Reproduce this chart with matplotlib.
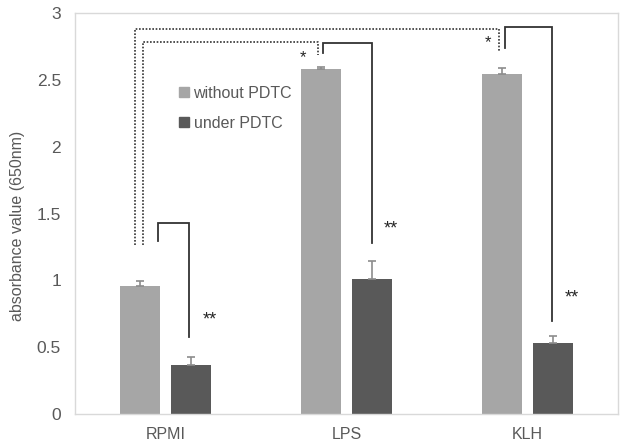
import matplotlib.pyplot as plt
import numpy as np
from matplotlib.patches import Patch

plt.rcParams['font.family'] = ['Liberation Sans', 'DejaVu Sans']

# values
categories = ['RPMI', 'LPS', 'KLH']
without_pdtc = [0.96, 2.58, 2.545]
without_err = [0.035, 0.015, 0.04]
under_pdtc = [0.37, 1.01, 0.53]
under_err = [0.055, 0.135, 0.05]

# solid brackets (per group): left leg offset, left leg bottom, top, right leg offset, right leg bottom
br_left_x = [-0.04, -0.129, -0.124]
br_left_bottom = [1.296, 2.70, 2.736]
br_top = [1.427, 2.773, 2.897]
br_right_x = [0.13, 0.14, 0.135]
br_right_bottom = [0.578, 1.277, 0.698]
double_star_y = [0.733, 1.414, 0.898]

# dotted brackets RPMI -> LPS (inner) and RPMI -> KLH (outer)
dot_targets = [1, 2]
dot_left_x = [-0.127, -0.166]
dot_bottom = [1.264, 1.264]
dot_top = [2.78, 2.878]
dot_right_x = [-0.157, -0.157]
dot_right_bottom = [2.686, 2.71]
single_star_x = [-0.24, -0.218]
single_star_y = [2.698, 2.81]

LIGHT = '#a6a6a6'
DARK = '#595959'
TXT = '#595959'

fig = plt.figure(figsize=(6.31, 4.44), dpi=100)
ax = fig.add_axes([75/631, 30/444, 543/631, 401/444])

x = np.arange(len(categories))
w = 0.221
off = 0.141
ax.bar(x - off, without_pdtc, w, color=LIGHT, zorder=2)
ax.bar(x + off, under_pdtc, w, color=DARK, zorder=2)
for xs, vals, errs in [(x - off, without_pdtc, without_err), (x + off, under_pdtc, under_err)]:
    ax.errorbar(xs, vals, yerr=[np.zeros(len(errs)), errs], fmt='none',
                ecolor='#8c8c8c', elinewidth=1.2, capsize=3.2, capthick=1.2, zorder=3)

for i in range(len(categories)):
    xl = i + br_left_x[i]
    xr = i + br_right_x[i]
    ax.plot([xl, xl, xr, xr], [br_left_bottom[i], br_top[i], br_top[i], br_right_bottom[i]],
            color='#333333', lw=1.3, solid_joinstyle='miter', zorder=4)
    ax.text(i + 0.245, double_star_y[i] - 0.03, '**', ha='center', va='center',
            fontsize=13, color='#262626')

for j, t in enumerate(dot_targets):
    xl = 0 + dot_left_x[j]
    xr = t + dot_right_x[j]
    ax.plot([xl, xl, xr, xr], [dot_bottom[j], dot_top[j], dot_top[j], dot_right_bottom[j]],
            color='#333333', lw=1.2, linestyle=(0, (1, 1)), zorder=4)
    ax.text(t + single_star_x[j], single_star_y[j] - 0.03, '*', ha='center', va='center',
            fontsize=12, color='#262626')

ax.set_xlim(-0.5, 2.5)
ax.set_ylim(0, 3)
ax.set_xticks(x)
ax.set_xticklabels(categories)
ax.set_yticks([0, 0.5, 1, 1.5, 2, 2.5, 3])
ax.set_yticklabels(['0', '0.5', '1', '1.5', '2', '2.5', '3'])
ax.tick_params(axis='x', length=0, pad=9, labelsize=11.5, labelcolor=TXT)
ax.tick_params(axis='y', length=0, pad=10, labelsize=12.5, labelcolor=TXT)
for s in ax.spines.values():
    s.set_color('#d9d9d9')
    s.set_linewidth(1.0)
ax.set_ylabel('absorbance value (650nm)', fontsize=11.5, color=TXT)
ax.yaxis.set_label_coords(-0.092, 0.47)

handles = [Patch(color=LIGHT), Patch(color=DARK)]
ax.legend(handles, ['without PDTC', 'under PDTC'], loc='upper left',
          bbox_to_anchor=(0.18, 0.835), frameon=False, fontsize=11.5,
          handlelength=0.6, handleheight=0.6, handletextpad=0.3,
          labelspacing=0.95, borderaxespad=0, labelcolor=TXT)

fig.savefig('out.png', dpi=100)
